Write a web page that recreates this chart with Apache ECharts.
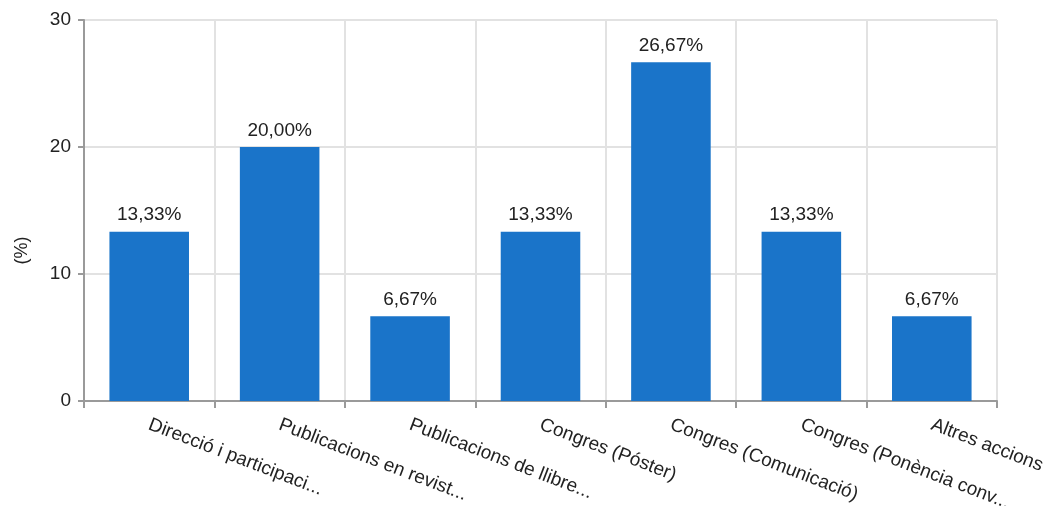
<!DOCTYPE html>
<html><head><meta charset="utf-8">
<script src="https://cdn.jsdelivr.net/npm/echarts@6/dist/echarts.min.js"></script>
<style>html,body{margin:0;padding:0;background:#fff}#c{width:1055px;height:506px}</style>
</head><body><div id="c"></div>
<script>
const categories = ["Direcció i participaci...", "Publicacions en revist...", "Publicacions de llibre...", "Congres (Póster)", "Congres (Comunicació)", "Congres (Ponència conv...", "Altres accions"];
const values = [13.33, 20.00, 6.67, 13.33, 26.67, 13.33, 6.67];
const yTicks = [0, 10, 20, 30];
const font = "'Liberation Sans', Arial, sans-serif";
const chart = echarts.init(document.getElementById('c'), null, {renderer: 'canvas'});
chart.setOption({
  animation: false,
  grid: {left: 84, right: 58, top: 20, bottom: 105, containLabel: false, outerBoundsMode: 'none'},
  xAxis: {
    type: 'category', data: categories,
    axisLine: {lineStyle: {color: '#9a9a9a', width: 2}},
    axisTick: {show: true, length: 7, lineStyle: {color: '#9a9a9a', width: 2}},
    splitLine: {show: true, lineStyle: {color: '#e2e2e2', width: 2}},
    axisLabel: {rotate: -21, interval: 0, margin: 23, color: '#222', fontSize: 19, fontFamily: font}
  },
  yAxis: {
    type: 'value', min: yTicks[0], max: yTicks[yTicks.length - 1], interval: 10,
    name: '(%)', nameLocation: 'middle', nameGap: 53, nameRotate: 90,
    nameTextStyle: {color: '#222', fontSize: 18, fontFamily: font, padding: [0, 80, 0, 0]},
    axisLine: {show: true, lineStyle: {color: '#9a9a9a', width: 2}},
    axisTick: {show: true, length: 6, lineStyle: {color: '#9a9a9a', width: 2}},
    splitLine: {show: true, lineStyle: {color: '#e2e2e2', width: 2}},
    axisLabel: {margin: 13, color: '#222', fontSize: 19, fontFamily: font}
  },
  series: [{
    type: 'bar', data: values, barWidth: '61%',
    itemStyle: {color: '#1a74c9'},
    label: {show: true, position: 'top', distance: 7, color: '#222', fontSize: 19, fontFamily: font,
      formatter: p => p.value.toFixed(2).replace('.', ',') + '%'}
  }]
});
</script></body></html>
